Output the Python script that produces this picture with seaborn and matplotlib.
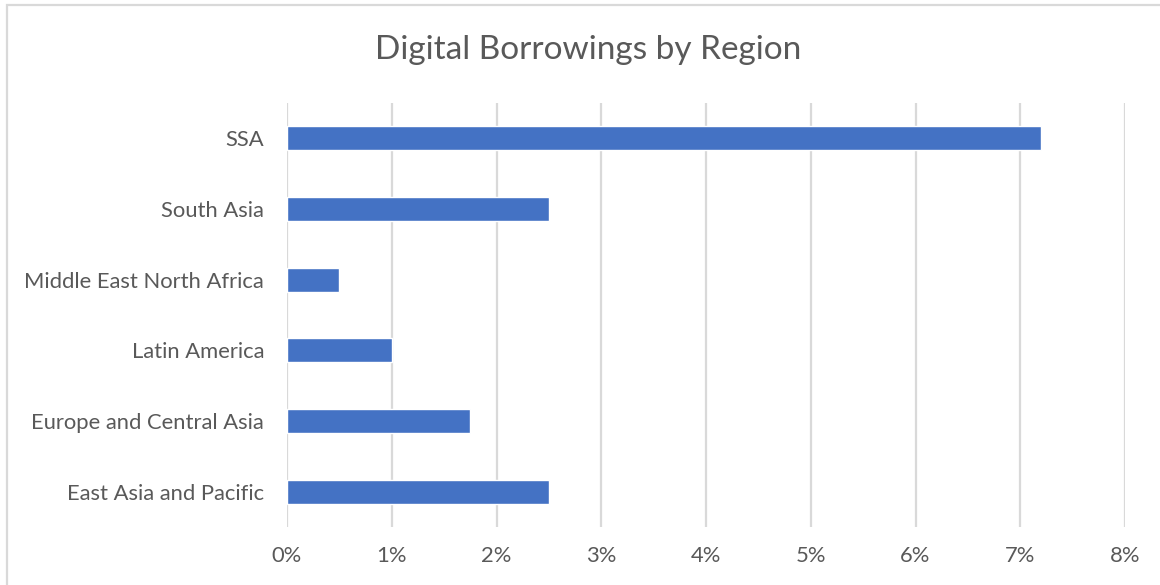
import matplotlib
matplotlib.use("Agg")
import matplotlib.pyplot as plt
import matplotlib.ticker as mticker
from matplotlib.patches import Rectangle
import seaborn as sns
import pandas as pd

regions = ["SSA", "South Asia", "Middle East North Africa", "Latin America",
           "Europe and Central Asia", "East Asia and Pacific"]
shares = [7.2, 2.5, 0.5, 1.0, 1.75, 2.5]  # percent of adults
x_ticks = [0, 1, 2, 3, 4, 5, 6, 7, 8]

df = pd.DataFrame({"region": regions, "share": shares})

sns.set_theme(style="white")
plt.rcParams["font.family"] = ["Lato", "DejaVu Sans"]

text_color = "#595959"
grid_color = "#D9D9D9"
bar_color = "#4472C4"

fig = plt.figure(figsize=(11.6, 5.85), dpi=100)
ax = fig.add_axes([287 / 1160, 1 - 527 / 585, (1125 - 287) / 1160, (527 - 103) / 585])

sns.barplot(data=df, y="region", x="share", order=regions, orient="h",
            color=bar_color, saturation=1, width=0.34, ax=ax, zorder=3)

ax.set_xlim(0, 8)
ax.set_xticks(x_ticks)
ax.xaxis.set_major_formatter(mticker.FuncFormatter(lambda v, _: f"{v:.0f}%"))
ax.grid(axis="x", color=grid_color, linewidth=1.6, zorder=0)
ax.grid(axis="y", visible=False)
for s in ax.spines.values():
    s.set_visible(False)
ax.tick_params(axis="both", length=0, colors=text_color, labelsize=15.8)
ax.tick_params(axis="x", pad=14)
ax.tick_params(axis="y", pad=16.5)
ax.set_xlabel("")
ax.set_ylabel("")

fig.text(588 / 1160, 1 - 50 / 585, "Digital Borrowings by Region", ha="center",
         va="center", fontsize=24, color=text_color)

# chart-area frame
fig.patches.append(Rectangle((7 / 1160, -0.05), 1.2, 1 - 5 / 585 + 0.05,
                             transform=fig.transFigure, fill=False,
                             edgecolor=grid_color, linewidth=1.6))

fig.savefig("out.png", dpi=100, facecolor="white")
